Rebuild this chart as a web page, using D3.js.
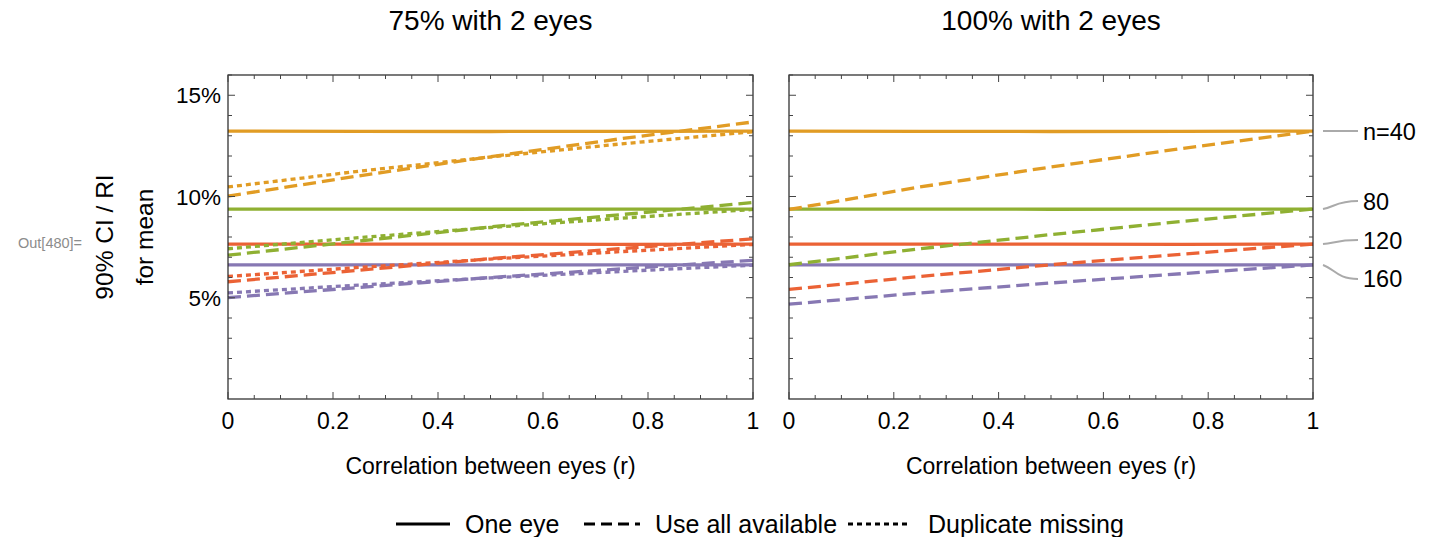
<!doctype html>
<html>
  <head>
    <script src="https://cdn.jsdelivr.net/npm/d3@7"></script>
    <style>
      body { margin: 0; background: #fff; }
      text { font-family: "Liberation Sans", Arial, sans-serif; }
    </style>
  </head>
  <body>
    <script>
    var rValues = [0, 0.25, 0.5, 0.75, 1];
    var sampleSizes = [40, 80, 120, 160];
    var sizeLabels = ['n=40', '80', '120', '160'];

    // CI width (%) - one eye only, flat in r
    var oneEye = [
      [13.23, 13.22, 13.21, 13.22, 13.23],
      [9.38, 9.38, 9.37, 9.38, 9.38],
      [7.65, 7.65, 7.65, 7.64, 7.65],
      [6.62, 6.62, 6.62, 6.62, 6.62]
    ];

    // 75% with 2 eyes
    var useAll75 = [
      [10.02, 11.02, 11.97, 12.86, 13.68],
      [7.10, 7.80, 8.50, 9.11, 9.70],
      [5.79, 6.36, 6.93, 7.43, 7.91],
      [5.01, 5.51, 6.00, 6.43, 6.85]
    ];
    var duplicate75 = [
      [10.47, 11.25, 11.95, 12.60, 13.20],
      [7.42, 7.97, 8.47, 8.93, 9.36],
      [6.05, 6.50, 6.91, 7.28, 7.63],
      [5.24, 5.63, 5.98, 6.30, 6.61]
    ];

    // 100% with 2 eyes
    var useAll100 = [
      [9.36, 10.47, 11.46, 12.37, 13.23],
      [6.63, 7.42, 8.12, 8.77, 9.38],
      [5.41, 6.05, 6.63, 7.15, 7.65],
      [4.68, 5.24, 5.73, 6.19, 6.62]
    ];

    var xTickValues = [0, 0.2, 0.4, 0.6, 0.8, 1];
    var yTickValues = [5, 10, 15];
    var panelTitles = ['75% with 2 eyes', '100% with 2 eyes'];
    var legendNames = ['One eye', 'Use all available', 'Duplicate missing'];

    var colors = ['#E19C24', '#8FB032', '#EB6235', '#8778B3'];
    var dashed = '13,6';
    var dotted = '5,4';

    var width = 1430;
    var height = 537;

    var svg = d3.select('body')
      .append('svg')
      .attr('width', width)
      .attr('height', height);

    var y = d3.scaleLinear()
      .domain([0, 16])
      .range([399, 75]);

    var panels = [
      { x: d3.scaleLinear().domain([0, 1]).range([228, 753]), title: panelTitles[0],
        series: [ { data: oneEye, dash: null }, { data: useAll75, dash: dashed }, { data: duplicate75, dash: dotted } ] },
      { x: d3.scaleLinear().domain([0, 1]).range([789, 1313]), title: panelTitles[1],
        series: [ { data: oneEye, dash: null }, { data: useAll100, dash: dashed } ] }
    ];

    var xMinor = d3.range(0, 1.0001, 0.05);
    var yMinor = d3.range(1, 16.5, 1);

    panels.forEach(function(p, pi) {
      var x = p.x;
      var g = svg.append('g');

      // curves
      p.series.forEach(function(s) {
        s.data.forEach(function(vals, i) {
          var line = d3.line()
            .x(function(d, j) { return x(rValues[j]); })
            .y(function(d) { return y(d); });
          g.append('path')
            .datum(vals)
            .attr('fill', 'none')
            .attr('stroke', colors[i])
            .attr('stroke-width', 3.3)
            .attr('stroke-dasharray', s.dash)
            .attr('d', line);
        });
      });

      // frame
      g.append('rect')
        .attr('x', x.range()[0])
        .attr('y', y.range()[1])
        .attr('width', x.range()[1] - x.range()[0])
        .attr('height', y.range()[0] - y.range()[1])
        .attr('fill', 'none')
        .attr('stroke', '#222')
        .attr('stroke-width', 1.2);

      // x ticks bottom / top, pointing inward
      xMinor.forEach(function(v) {
        var major = xTickValues.some(function(t) { return Math.abs(t - v) < 1e-6; });
        var len = major ? 7 : 4;
        g.append('line')
          .attr('x1', x(v)).attr('x2', x(v))
          .attr('y1', y.range()[0]).attr('y2', y.range()[0] - len)
          .attr('stroke', '#444');
        g.append('line')
          .attr('x1', x(v)).attr('x2', x(v))
          .attr('y1', y.range()[1]).attr('y2', y.range()[1] + len)
          .attr('stroke', '#444');
      });

      // y ticks left / right
      yMinor.forEach(function(v) {
        var major = yTickValues.indexOf(v) >= 0;
        var len = major ? 7 : 4;
        g.append('line')
          .attr('x1', x.range()[0]).attr('x2', x.range()[0] + len)
          .attr('y1', y(v)).attr('y2', y(v))
          .attr('stroke', '#444');
        g.append('line')
          .attr('x1', x.range()[1]).attr('x2', x.range()[1] - len)
          .attr('y1', y(v)).attr('y2', y(v))
          .attr('stroke', '#444');
      });

      // x tick labels
      g.selectAll('.xlab')
        .data(xTickValues)
        .enter()
        .append('text')
          .attr('x', function(d) { return x(d); })
          .attr('y', 429)
          .attr('text-anchor', 'middle')
          .style('font-size', '23px')
          .text(function(d) { return d === 0 || d === 1 ? d : d3.format('.1f')(d); });

      g.append('text')
        .attr('x', (x.range()[0] + x.range()[1]) / 2)
        .attr('y', 474)
        .attr('text-anchor', 'middle')
        .style('font-size', '23px')
        .text('Correlation between eyes (r)');

      g.append('text')
        .attr('x', (x.range()[0] + x.range()[1]) / 2)
        .attr('y', 30)
        .attr('text-anchor', 'middle')
        .style('font-size', '28px')
        .text(p.title);

      if (pi === 0) {
        g.selectAll('.ylab')
          .data(yTickValues)
          .enter()
          .append('text')
            .attr('x', 221)
            .attr('y', function(d) { return y(d); })
            .attr('dy', '0.36em')
            .attr('text-anchor', 'end')
            .style('font-size', '22.5px')
            .text(function(d) { return d + '%'; });
      }
    });

    // y axis title, two rotated lines
    var yTitle = ['90% CI / RI', 'for mean'];
    yTitle.forEach(function(t, i) {
      var cx = 104 + i * 40;
      svg.append('text')
        .attr('transform', 'translate(' + cx + ',237) rotate(-90)')
        .attr('text-anchor', 'middle')
        .attr('dominant-baseline', 'central')
        .style('font-size', '24.5px')
        .text(t);
    });

    svg.append('text')
      .attr('x', 18)
      .attr('y', 243)
      .attr('dominant-baseline', 'central')
      .style('font-size', '14.5px')
      .attr('fill', '#8c8c8c')
      .text('Out[480]=');

    // sample size labels on the right
    var xr = panels[1].x;
    var labelShift = [0, -8, -4, 14];
    sampleSizes.forEach(function(n, i) {
      var yEnd = y(oneEye[i][oneEye[i].length - 1]);
      var yLab = yEnd + labelShift[i];
      var x0 = xr.range()[1] + 10;
      svg.append('path')
        .attr('d', 'M' + x0 + ',' + yEnd + ' C' + (x0 + 12) + ',' + (yEnd + (yLab - yEnd) * 0.3) + ' ' + (x0 + 14) + ',' + yLab + ' ' + (x0 + 35) + ',' + yLab)
        .attr('fill', 'none')
        .attr('stroke', '#aaa')
        .attr('stroke-width', 2);
      svg.append('text')
        .attr('x', x0 + 40)
        .attr('y', yLab)
        .attr('dy', '0.36em')
        .style('font-size', '23.5px')
        .text(sizeLabels[i]);
    });

    // legend
    var legendDash = [null, '11,6', '5,4'];
    var legendX = [396, 584, 848];
    var legendLen = [54, 56, 63];
    var legendGap = [15, 15, 17];
    legendNames.forEach(function(name, i) {
      svg.append('line')
        .attr('x1', legendX[i]).attr('x2', legendX[i] + legendLen[i])
        .attr('y1', 524).attr('y2', 524)
        .attr('stroke', '#000')
        .attr('stroke-width', 2.8)
        .attr('stroke-dasharray', legendDash[i]);
      svg.append('text')
        .attr('x', legendX[i] + legendLen[i] + legendGap[i])
        .attr('y', 524)
        .attr('dy', '0.36em')
        .style('font-size', '25px')
        .text(name);
    });
    </script>
  </body>
</html>
